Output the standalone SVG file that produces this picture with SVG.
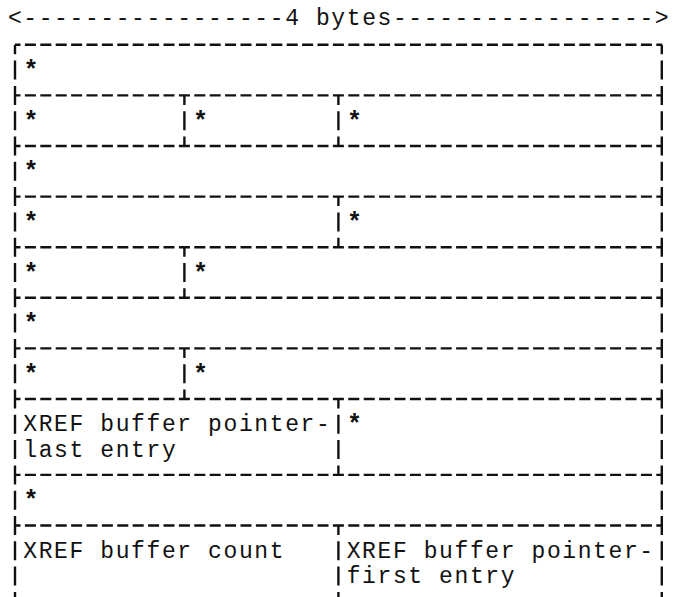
<svg xmlns="http://www.w3.org/2000/svg" width="678" height="597" viewBox="0 0 678 597">
<style>
.t{font-family:"Liberation Mono","DejaVu Sans Mono",monospace;font-size:23px;letter-spacing:1.6px;fill:#111}
.s{font-family:"Liberation Mono","DejaVu Sans Mono",monospace;font-size:25px;font-weight:bold;fill:#111}
.h{fill:none;stroke:#111;stroke-width:2.4;stroke-dasharray:11 4.4;stroke-dashoffset:5.5}
.v{fill:none;stroke:#111;stroke-width:2.4;stroke-dasharray:19 6.3;stroke-dashoffset:9.5}
</style>
<rect width="678" height="597" fill="#fff"/>
<g id="header"><text class="t" x="7.9" y="24.5">&lt;-----------------4 bytes-----------------&gt;</text></g>
<g id="borders">
<path class="h" d="M15 44.8H662M15 95.4H662M15 146H662M15 196.6H662M15 247.2H662M15 297.8H662M15 348.4H662M15 399H662M15 474.9H662M15 525.5H662"/>
<path class="v" d="M15 44.8V597M661.8 44.8V597"/>
<path class="v" d="M184.4 95.4V146M338.4 95.4V146M338.4 196.6V247.2M184.4 247.2V297.8M184.4 348.4V399M338.4 399V474.9M338.4 525.5V597"/>
</g>
<g id="row1"><text class="s" x="23.5" y="78.1">*</text></g>
<g id="row2"><text class="s" x="23.5" y="128.7">*</text><text class="s" x="192.9" y="128.7">*</text><text class="s" x="346.9" y="128.7">*</text></g>
<g id="row3"><text class="s" x="23.5" y="179.3">*</text></g>
<g id="row4"><text class="s" x="23.5" y="229.9">*</text><text class="s" x="346.9" y="229.9">*</text></g>
<g id="row5"><text class="s" x="23.5" y="280.5">*</text><text class="s" x="192.9" y="280.5">*</text></g>
<g id="row6"><text class="s" x="23.5" y="331.1">*</text></g>
<g id="row7"><text class="s" x="23.5" y="381.7">*</text><text class="s" x="192.9" y="381.7">*</text></g>
<g id="row8"><text class="t" x="23.3" y="431.3">XREF buffer pointer-</text><text class="t" x="23.3" y="456.6">last entry</text><text class="s" x="346.9" y="432.3">*</text></g>
<g id="row9"><text class="s" x="23.5" y="508.2">*</text></g>
<g id="row10"><text class="t" x="23.3" y="557.8">XREF buffer count</text><text class="t" x="346.7" y="557.8">XREF buffer pointer-</text><text class="t" x="346.7" y="583.1">first entry</text></g>
</svg>
